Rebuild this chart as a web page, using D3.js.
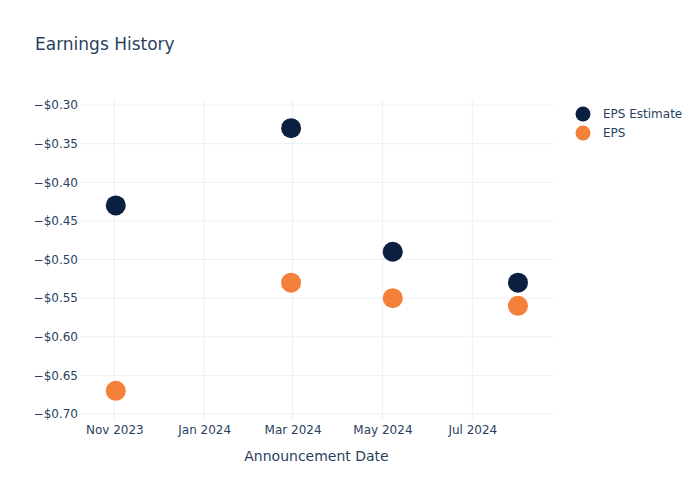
<!DOCTYPE html>
<html><head><meta charset="utf-8">
<script src="https://cdn.jsdelivr.net/npm/d3@7"></script>
<style>body{margin:0;background:#fff;}svg{font-family:"DejaVu Sans",Verdana,sans-serif;}</style>
</head><body><svg id="c" width="700" height="500"></svg>
<script>
const dates = ["2023-11-02","2024-02-29","2024-05-08","2024-08-01"];
const epsEstimate = [-0.43,-0.33,-0.49,-0.53];
const eps = [-0.67,-0.53,-0.55,-0.56];
const yTicks = [-0.30,-0.35,-0.40,-0.45,-0.50,-0.55,-0.60,-0.65,-0.70];
const xTicks = ["2023-11-01","2024-01-01","2024-03-01","2024-05-01","2024-07-01"];
const seriesNames = ["EPS Estimate","EPS"];
const colors = ["#0b1f41","#f5803a"];

const parse = d3.utcParse("%Y-%m-%d");
const svg = d3.select("#c");
const L=80,R=553,T=100,B=420;
const pxPerDay = (472.3-114.3)/((parse("2024-07-01")-parse("2023-11-01"))/864e5);
const d0 = new Date(parse("2023-11-01").getTime() - (114.3-L)/pxPerDay*864e5);
const d1 = new Date(parse("2023-11-01").getTime() + (R-114.3)/pxPerDay*864e5);
const x = d3.scaleUtc().domain([d0,d1]).range([L,R]);
const pxPerUnit = (414-105)/0.40;
const y = d3.scaleLinear().domain([-0.30+(105-T)/pxPerUnit, -0.70-(B-414)/pxPerUnit]).range([T,B]);

const grid = "#ebf0f8", txt = "#2a3f5f";
svg.append("g").selectAll("line").data(yTicks).join("line")
  .attr("x1",L).attr("x2",R).attr("y1",d=>y(d)).attr("y2",d=>y(d))
  .attr("stroke",grid).attr("stroke-width",1);
svg.append("g").selectAll("line").data(xTicks).join("line")
  .attr("y1",T).attr("y2",B).attr("x1",d=>x(parse(d))).attr("x2",d=>x(parse(d)))
  .attr("stroke",grid).attr("stroke-width",1);

const fmtY = d => "\u2212$" + Math.abs(d).toFixed(2);
const yAxis = d3.axisLeft(y).tickValues(yTicks).tickFormat(fmtY).tickSize(0).tickPadding(2);
const gy = svg.append("g").attr("transform",`translate(${L},0)`).call(yAxis);
gy.select(".domain").remove();
gy.selectAll("text").attr("fill",txt).attr("font-size",12).attr("font-family","DejaVu Sans");

const fmtX = d3.utcFormat("%b %Y");
const xAxis = d3.axisBottom(x).tickValues(xTicks.map(parse)).tickFormat(fmtX).tickSize(0).tickPadding(5);
const gx = svg.append("g").attr("transform",`translate(0,${B})`).call(xAxis);
gx.select(".domain").remove();
gx.selectAll("text").attr("fill",txt).attr("font-size",12).attr("font-family","DejaVu Sans");

[epsEstimate, eps].forEach((vals,i)=>{
  svg.append("g").selectAll("circle").data(vals).join("circle")
    .attr("cx",(d,j)=>x(parse(dates[j]))).attr("cy",d=>y(d)).attr("r",10)
    .attr("fill",colors[i]);
});

svg.append("text").attr("x",35).attr("y",50).attr("font-size",17).attr("fill",txt).text("Earnings History");
svg.append("text").attr("x",(L+R)/2).attr("y",461).attr("text-anchor","middle").attr("font-size",14).attr("fill",txt).text("Announcement Date");

seriesNames.forEach((n,i)=>{
  const ly = 114 + i*19;
  svg.append("circle").attr("cx",583).attr("cy",ly).attr("r",7.5).attr("fill",colors[i]);
  svg.append("text").attr("x",603).attr("y",ly+4).attr("font-size",12).attr("fill",txt).text(n);
});
</script></body></html>
